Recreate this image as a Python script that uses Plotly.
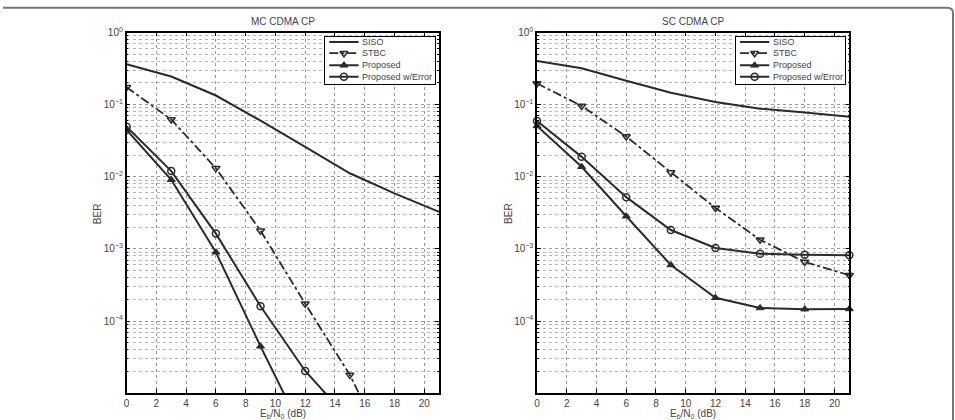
import plotly.graph_objects as go

# ---------------- data ----------------
snr = [0, 3, 6, 9, 12, 15, 18, 21]

mc_siso = [0.363, 0.246, 0.134, 0.060, 0.026, 0.0112, 0.0059, 0.00326]
mc_stbc = [0.174, 0.0624, 0.0131, 0.00179, 0.000174, 1.79e-5, 9.8e-7]
mc_prop = [0.0446, 0.0091, 0.0009, 4.46e-5, 2.5e-6]
mc_prop_err = [0.0495, 0.012, 0.00163, 0.000160, 2.03e-5, 4.2e-6]

sc_siso = [0.402, 0.32, 0.215, 0.146, 0.109, 0.088, 0.078, 0.068]
sc_stbc = [0.197, 0.096, 0.0362, 0.01146, 0.0037, 0.00134, 0.00066, 0.000432]
sc_prop = [0.0507, 0.0138, 0.00284, 0.000598, 0.00021, 0.000152, 0.000146, 0.000147]
sc_prop_err = [0.0593, 0.0189, 0.00522, 0.00183, 0.00103, 0.000855, 0.000828, 0.00082]

titles = ["MC CDMA CP", "SC CDMA CP"]
series_names = ["SISO", "STBC", "Proposed", "Proposed w/Error"]
x_ticks = list(range(0, 21, 2))
y_major = [1e-5, 1e-4, 1e-3, 1e-2, 1e-1, 1]
y_major_text = ["", "10<sup>−4</sup>", "10<sup>−3</sup>", "10<sup>−2</sup>", "10<sup>−1</sup>", "10<sup>0</sup>"]

# ---------------- layout constants ----------------
W, H = 955, 420
LINE = "#2b2b2b"
TXT = "#444444"
FONT = "Liberation Sans, Arial, sans-serif"


def px_x(p):
    return p / W


def px_y(p):
    return 1 - p / H


domains_x = [[px_x(124), px_x(437.5)], [px_x(535.7), px_x(849)]]
domain_y = [px_y(392.7), px_y(26)]
# legend boxes (pixel extents)
leg_x = [[323, 433], [735, 845]]
leg_y = [30, 78]

fig = go.Figure()

styles = [
    dict(mode="lines", line=dict(color=LINE, width=2), marker=dict()),
    dict(mode="lines+markers", line=dict(color=LINE, width=1.8, dash="dashdot"),
         marker=dict(symbol="triangle-down-open", size=7, color=LINE, line=dict(width=1.5, color=LINE))),
    dict(mode="lines+markers", line=dict(color=LINE, width=2),
         marker=dict(symbol="triangle-up", size=7, color=LINE, line=dict(width=1, color=LINE))),
    dict(mode="lines+markers", line=dict(color=LINE, width=2),
         marker=dict(symbol="circle-open", size=7, color=LINE, line=dict(width=1.5, color=LINE))),
]

panels = [
    [mc_siso, mc_stbc, mc_prop, mc_prop_err],
    [sc_siso, sc_stbc, sc_prop, sc_prop_err],
]

minor_vals = []
for e in range(-5, 0):
    for m in range(2, 10):
        minor_vals.append(m * 10 ** e)

for i, data in enumerate(panels):
    xa = "x" if i == 0 else "x2"
    ya = "y" if i == 0 else "y2"
    for name, vals, st in zip(series_names, data, styles):
        fig.add_trace(go.Scatter(
            x=snr[:len(vals)], y=vals, name=name, xaxis=xa, yaxis=ya,
            mode=st["mode"], line=st["line"], marker=st["marker"],
            showlegend=False, cliponaxis=(i == 0),
        ))

# legend drawn as small inset axes (one per panel)
leg_w = 110
leg_h = 48
row_y = [42.3, 31, 18.7, 7]
seg = [4.3, 33.7]
annots = []
for i in range(2):
    xa = "x3" if i == 0 else "x4"
    ya = "y3" if i == 0 else "y4"
    for name, st, ry in zip(series_names, styles, row_y):
        fig.add_trace(go.Scatter(x=seg, y=[ry, ry], mode="lines", line=st["line"],
                                 xaxis=xa, yaxis=ya, showlegend=False, hoverinfo="skip"))
        if st["mode"] != "lines":
            fig.add_trace(go.Scatter(x=[(seg[0] + seg[1]) / 2], y=[ry], mode="markers",
                                     marker=st["marker"], xaxis=xa, yaxis=ya,
                                     showlegend=False, hoverinfo="skip"))
        annots.append(dict(text=name, x=35, y=ry, xref=xa, yref=ya, showarrow=False,
                           xanchor="left", yanchor="middle",
                           font=dict(family=FONT, size=9, color=TXT)))

axis_common_x = dict(
    range=[0, 21], tickmode="array", tickvals=x_ticks,
    ticks="inside", ticklen=4, tickcolor="black",
    showline=True, linecolor="black", linewidth=1.5, mirror="ticks",
    showgrid=True, gridcolor="#9a9a9a", griddash="dot", gridwidth=1,
    zeroline=False, tickfont=dict(family=FONT, size=10, color=TXT),
)
axis_common_y = dict(
    type="log", range=[-5, 0], tickmode="array", tickvals=y_major, ticktext=y_major_text,
    ticks="inside", ticklen=4, tickcolor="black",
    showline=True, linecolor="black", linewidth=1.5, mirror="ticks",
    showgrid=True, gridcolor="#9a9a9a", griddash="dot", gridwidth=1,
    zeroline=False, tickfont=dict(family=FONT, size=10, color=TXT),
    minor=dict(tickmode="array", tickvals=minor_vals, ticks="inside", ticklen=2,
               tickcolor="black", showgrid=True, gridcolor="#b5b5b5",
               griddash="dot", gridwidth=1),
)
leg_axis = dict(showline=True, linecolor="black", linewidth=1.3, mirror=True,
                showgrid=False, zeroline=False, showticklabels=False, ticks="",
                fixedrange=True)

fig.update_layout(
    width=W, height=H,
    margin=dict(l=0, r=0, t=0, b=0),
    paper_bgcolor="white", plot_bgcolor="white",
    font=dict(family=FONT, color=TXT, size=10),
    showlegend=False,
    xaxis=dict(domain=domains_x[0], anchor="y", **axis_common_x),
    yaxis=dict(domain=domain_y, anchor="x", **axis_common_y),
    xaxis2=dict(domain=domains_x[1], anchor="y2", **axis_common_x),
    yaxis2=dict(domain=domain_y, anchor="x2", **axis_common_y),
    xaxis3=dict(domain=[px_x(leg_x[0][0]), px_x(leg_x[0][1])], anchor="y3", range=[0, leg_w], **leg_axis),
    yaxis3=dict(domain=[px_y(leg_y[1]), px_y(leg_y[0])], anchor="x3", range=[0, leg_h], **leg_axis),
    xaxis4=dict(domain=[px_x(leg_x[1][0]), px_x(leg_x[1][1])], anchor="y4", range=[0, leg_w], **leg_axis),
    yaxis4=dict(domain=[px_y(leg_y[1]), px_y(leg_y[0])], anchor="x4", range=[0, leg_h], **leg_axis),
)

centers = [(124 + 437.5) / 2, (535.7 + 849) / 2]
ylab_x = [95, 507]
for i in range(2):
    annots.append(dict(text=titles[i], x=px_x(centers[i]), y=px_y(15), xref="paper", yref="paper",
                       showarrow=False, font=dict(family=FONT, size=10, color=TXT),
                       xanchor="center", yanchor="middle"))
    annots.append(dict(text="E<sub>b</sub>/N<sub>0</sub> (dB)", x=px_x(centers[i]), y=px_y(413.5),
                       xref="paper", yref="paper", showarrow=False,
                       font=dict(family=FONT, size=10, color=TXT), xanchor="center", yanchor="middle"))
    annots.append(dict(text="BER", x=px_x(ylab_x[i]), y=px_y(210), xref="paper", yref="paper",
                       showarrow=False, textangle=-90,
                       font=dict(family=FONT, size=10, color=TXT), xanchor="center", yanchor="middle"))
fig.update_layout(annotations=annots)

# frame of the scanned figure (top edge and rounded right edge)
fr = 953 / W
path = (f"M 0,{px_y(0.8)} L {px_x(947)},{px_y(0.8)} "
        f"Q {fr},{px_y(0.8)} {fr},{px_y(6)} L {fr},0")
fig.add_shape(type="path", path=path, xref="paper", yref="paper",
              line=dict(color="#777777", width=2))

fig.write_html("out.html")
